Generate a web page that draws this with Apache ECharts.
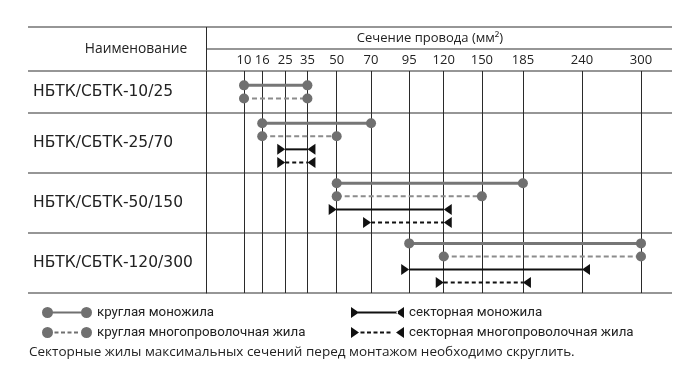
<!DOCTYPE html>
<html><head><meta charset="utf-8">
<script src="https://cdn.jsdelivr.net/npm/echarts@6/dist/echarts.min.js"></script>
<style>html,body{margin:0;padding:0;background:#fff}#c{width:700px;height:367px}</style>
</head><body><div id="c"></div><script>
// ---------- data ----------
const products = ['НБТК/СБТК-10/25', 'НБТК/СБТК-25/70', 'НБТК/СБТК-50/150', 'НБТК/СБТК-120/300'];
const sections = [10, 16, 25, 35, 50, 70, 95, 120, 150, 185, 240, 300];
const roundSolid = [[10, 35], [16, 70], [50, 185], [95, 300]];
const roundStranded = [[10, 35], [16, 50], [50, 150], [120, 300]];
const sectorSolid = [null, [25, 35], [50, 120], [95, 240]];
const sectorStranded = [null, [25, 35], [70, 120], [120, 185]];
const legendNames = ['круглая моножила', 'круглая многопроволочная жила', 'секторная моножила', 'секторная многопроволочная жила'];
const headerName = 'Наименование';
const headerSection = 'Сечение провода (мм²)';
const footnote = 'Секторные жилы максимальных сечений перед монтажом необходимо скруглить.';

// ---------- layout ----------
const FONT = '"Open Sans", Roboto, sans-serif';
const RFONT = '"DejaVu Sans", "Open Sans", sans-serif';
const LFONT = 'Roboto, "Open Sans", sans-serif';
const TEXT = '#222';
const HLINE = '#969696';
const VLINE = '#2a2a2a';
const P = 0.63;                       // compressive column scale
const tx = v => Math.pow(v, P);
const tableL = 28, tableR = 672, headTop = 27, headMid = 49, plotTop = 71, plotBottom = 293, divX = 206;
const firstColX = 244, lastColX = 641;
const W = 700, H = 367;
const s0 = sections[0], sN = sections[sections.length - 1];
const kx = (lastColX - firstColX) / (tx(sN) - tx(s0));
const xMin = tx(s0) - (firstColX - divX) / kx;
const xMax = tx(sN) + (tableR - lastColX) / kx;

const types = [roundSolid, roundStranded, sectorSolid, sectorStranded];
let yCursor = 0;
const boundaries = [0], centers = [], lineY = [];
products.forEach((p, r) => {
  const present = types.map(t => t[r] != null);
  const n = present.filter(Boolean).length;
  const h = Math.max(3.2, n + 0.6);
  const first = yCursor + (h - (n - 1)) / 2;
  let j = 0;
  lineY.push(types.map((t, i) => present[i] ? first + (j++) : null));
  centers.push(yCursor + h / 2);
  yCursor += h;
  boundaries.push(yCursor);
});
const yMax = yCursor;

const styles = [
  { item: '#707070', line: '#767676', width: 3, type: 'solid', marker: 'circle' },
  { item: '#707070', line: '#8c8c8c', width: 2, type: [5, 3], marker: 'circle' },
  { item: '#111', line: '#111', width: 2, type: 'solid', marker: 'arrow' },
  { item: '#111', line: '#111', width: 2, type: [4, 3], marker: 'arrow' }
];

const series = [];
types.forEach((t, i) => {
  const st = styles[i];
  t.forEach((seg, r) => {
    if (!seg) return;
    const y = lineY[r][i];
    const data = st.marker === 'circle'
      ? [[tx(seg[0]), y], [tx(seg[1]), y]]
      : [{ value: [tx(seg[0]), y], symbolRotate: -90, symbolOffset: [-4, 0] },
         { value: [tx(seg[1]), y], symbolRotate: 90, symbolOffset: [4, 0] }];
    series.push({
      type: 'line', name: legendNames[i], xAxisIndex: 1, yAxisIndex: 1,
      data, symbol: st.marker === 'circle' ? 'circle' : 'triangle',
      symbolSize: st.marker === 'circle' ? 10 : [11, 8],
      showSymbol: true, silent: true, animation: false, clip: false,
      itemStyle: { color: st.item, borderWidth: 0 },
      lineStyle: { color: st.line, width: st.width, type: st.type },
      emphasis: { disabled: true }, z: 3 + i
    });
  });
});

// legend icons
const circ = (cx) => `M${cx - 5.5},5.5A5.5,5.5,0,1,1,${cx + 5.5},5.5A5.5,5.5,0,1,1,${cx - 5.5},5.5Z`;
const dashes = (a, b, d, g) => { let s = ''; for (let x = a; x + d <= b + 0.01; x += d + g) s += `M${x},4.6L${x + d},4.6L${x + d},6.4L${x},6.4Z`; return s; };
const iconRoundSolid = 'path://' + circ(5.5) + circ(44.5) + 'M8,4.5L42,4.5L42,6.5L8,6.5Z';
const iconRoundDashed = 'path://' + circ(5.5) + circ(44.5) + dashes(12.5, 38, 4, 2.5);
const iconSectorSolid = 'path://M0,0L8,5.5L0,11ZM53,0L45,5.5L53,11ZM6,4.5L47,4.5L47,6.5L6,6.5Z';
const iconSectorDashed = 'path://M0,0L8,5.5L0,11ZM53,0L45,5.5L53,11Z' + dashes(9.5, 44, 4, 2.5);

const legendBase = {
  orient: 'vertical', top: 306, padding: 0, itemGap: 7, itemHeight: 11, selectedMode: false,
  itemStyle: { borderWidth: 0 },
  textStyle: { fontFamily: LFONT, fontSize: 13.3, color: TEXT }
};

const xLabel = v => {
  let best = 0;
  sections.forEach((s, i) => { if (Math.abs(tx(s) - v) < Math.abs(tx(sections[best]) - v)) best = i; });
  return String(sections[best]);
};
const yLabel = v => {
  let best = 0;
  centers.forEach((c, i) => { if (Math.abs(c - v) < Math.abs(centers[best] - v)) best = i; });
  return products[best];
};

const option = {
  backgroundColor: '#fff',
  animation: false,
  textStyle: { fontFamily: FONT },
  grid: [
    { left: tableL, right: W - divX, top: plotTop, bottom: H - plotBottom, containLabel: false },
    { left: divX, right: W - tableR, top: plotTop, bottom: H - plotBottom, containLabel: false }
  ],
  xAxis: [
    { type: 'value', gridIndex: 0, min: 0, max: 1, show: false },
    {
      type: 'value', gridIndex: 1, position: 'top', min: xMin, max: xMax,
      axisLine: { show: false },
      axisTick: { show: false, customValues: sections.map(tx) },
      axisLabel: { customValues: sections.map(tx), formatter: xLabel, margin: 4, fontSize: 13, color: TEXT, fontFamily: FONT },
      splitLine: { show: true, lineStyle: { color: VLINE, width: 1 } }
    }
  ],
  yAxis: [
    {
      type: 'value', gridIndex: 0, inverse: true, min: 0, max: yMax,
      axisLine: { show: false },
      axisTick: { show: false, customValues: boundaries },
      axisLabel: { customValues: centers, formatter: yLabel, inside: true, margin: 5, fontSize: 15.5, color: TEXT, fontFamily: RFONT },
      splitLine: { show: true, lineStyle: { color: HLINE, width: 2 } }
    },
    {
      type: 'value', gridIndex: 1, inverse: true, min: 0, max: yMax,
      axisLine: { show: true, lineStyle: { color: VLINE, width: 1 } },
      axisTick: { show: false, customValues: boundaries },
      axisLabel: { show: false },
      splitLine: { show: true, lineStyle: { color: HLINE, width: 2 } }
    }
  ],
  legend: [
    Object.assign({}, legendBase, { left: 42, itemWidth: 50, data: [{ name: legendNames[0], icon: iconRoundSolid }, { name: legendNames[1], icon: iconRoundDashed }] }),
    Object.assign({}, legendBase, { left: 351, itemWidth: 53, data: [{ name: legendNames[2], icon: iconSectorSolid }, { name: legendNames[3], icon: iconSectorDashed }] })
  ],
  graphic: [
    { type: 'line', silent: true, shape: { x1: tableL, y1: headTop, x2: tableR, y2: headTop }, style: { stroke: HLINE, lineWidth: 2 } },
    { type: 'line', silent: true, shape: { x1: divX, y1: headMid, x2: tableR, y2: headMid }, style: { stroke: HLINE, lineWidth: 2 } },
    { type: 'line', silent: true, shape: { x1: divX + 0.5, y1: headTop, x2: divX + 0.5, y2: plotTop }, style: { stroke: VLINE, lineWidth: 1 } },
    { type: 'text', silent: true, x: 136, y: 49, style: { text: headerName, align: 'center', verticalAlign: 'middle', fontFamily: FONT, fontSize: 13.8, fill: TEXT } },
    { type: 'text', silent: true, x: 430, y: 38, style: { text: headerSection, align: 'center', verticalAlign: 'middle', fontFamily: FONT, fontSize: 13, fill: TEXT } },
    { type: 'text', silent: true, x: 29, y: 352, style: { text: footnote, align: 'left', verticalAlign: 'middle', fontFamily: FONT, fontSize: 13.5, fill: TEXT } }
  ],
  series
};
const chart = echarts.init(document.getElementById('c'), null, { renderer: 'canvas' });
chart.setOption(option);
</script></body></html>
